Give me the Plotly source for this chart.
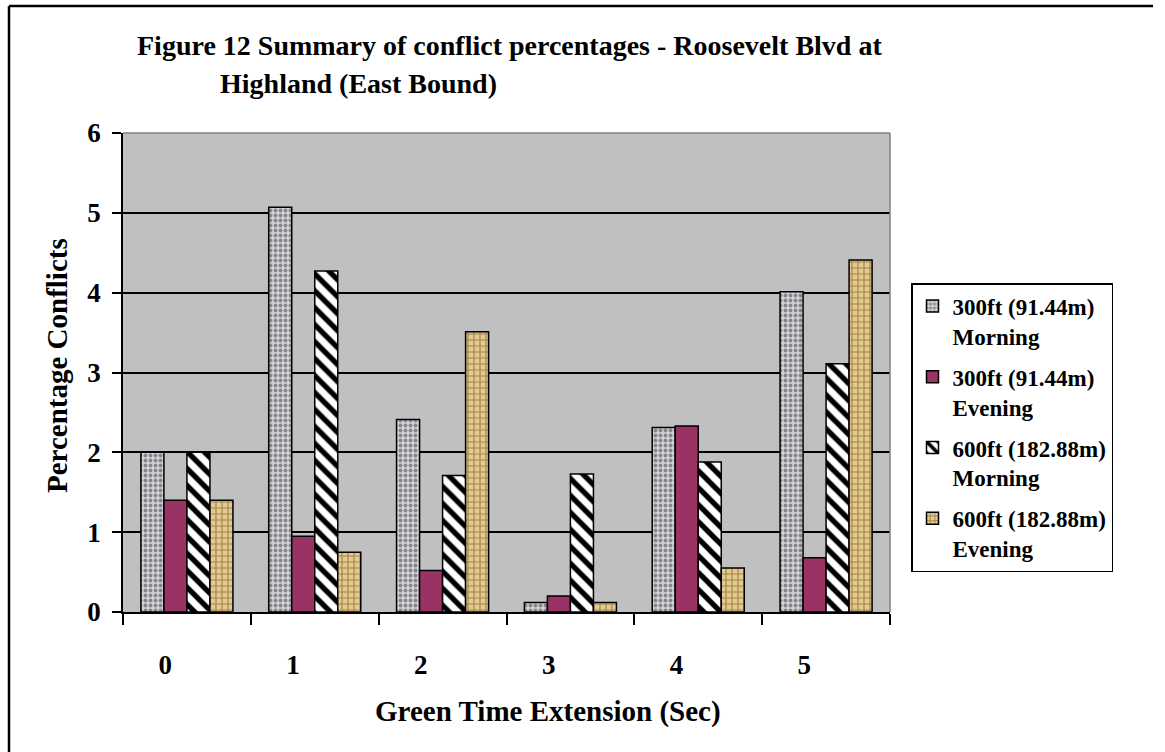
import plotly.graph_objects as go

categories = ["0", "1", "2", "3", "4", "5"]
series_names = ["300ft (91.44m)<br>Morning", "300ft (91.44m)<br>Evening",
                "600ft (182.88m)<br>Morning", "600ft (182.88m)<br>Evening"]
m300 = [2.0, 5.07, 2.41, 0.12, 2.31, 4.01]
e300 = [1.40, 0.95, 0.52, 0.20, 2.33, 0.68]
m600 = [2.0, 4.27, 1.71, 1.73, 1.88, 3.11]
e600 = [1.40, 0.75, 3.51, 0.12, 0.55, 4.41]
y_ticks = [0, 1, 2, 3, 4, 5, 6]

FONT = "Liberation Serif, Times New Roman, serif"
W, H = 1165, 752
L, R, T, B = 123, 890, 133, 612
PW, PH = R - L, B - T


def px(x):
    return (x - L) / PW


def py(y):
    return (B - y) / PH


xpos = list(range(len(categories)))
patterns = [
    dict(shape=".", fgcolor="#85858d", bgcolor="#d2d2d6", size=5, solidity=0.45, fillmode="replace"),
    None,
    dict(shape="\\", fgcolor="black", bgcolor="white", size=12, solidity=0.45, fillmode="replace"),
    dict(shape="+", fgcolor="#a5834a", bgcolor="#e2ca90", size=6, solidity=0.35, fillmode="replace"),
]
colors = ["#d2d2d6", "#993366", "white", "#e2ca90"]
values = [m300, e300, m600, e600]

fig = go.Figure()
for i, (name, vals) in enumerate(zip(series_names, values)):
    marker = dict(color=colors[i], line=dict(color="black", width=1.5))
    if patterns[i] is not None:
        marker["pattern"] = patterns[i]
    fig.add_trace(go.Bar(x=xpos, y=vals, name=name, marker=marker,
                         legendgroup=f"g{i}", xaxis="x"))

fig.update_layout(
    width=W, height=H,
    margin=dict(l=L, r=W - R, t=T, b=H - B, pad=0),
    paper_bgcolor="white",
    plot_bgcolor="#c0c0c0",
    barmode="group", bargap=0.28, bargroupgap=0,
    font=dict(family=FONT, size=22, color="black", weight="bold"),
    xaxis=dict(range=[-0.5, 5.5], tickvals=[-0.5, 0.5, 1.5, 2.5, 3.5, 4.5, 5.5],
               showticklabels=False, ticks="outside", ticklen=11, tickwidth=1.5,
               tickcolor="black", showline=True, linecolor="black", linewidth=1.5,
               showgrid=False, zeroline=False, fixedrange=True),
    xaxis2=dict(range=[-0.5, 5.5], overlaying="x", anchor="y", side="bottom",
                tickvals=[x - 0.17 for x in xpos], ticktext=categories,
                ticks="outside", ticklen=29, tickcolor="rgba(0,0,0,0)",
                showline=False, showgrid=False, zeroline=False,
                tickfont=dict(family=FONT, size=27, weight="bold")),
    yaxis=dict(range=[0, 6], tickvals=y_ticks, ticks="outside", ticklen=9,
               tickwidth=1.5, tickcolor="black", showline=True, linecolor="black",
               linewidth=1.5, showgrid=True, gridcolor="black", gridwidth=1.5,
               zeroline=False, ticklabelstandoff=6,
               tickfont=dict(family=FONT, size=27, weight="bold")),
    legend=dict(x=px(911), y=py(283), xanchor="left", yanchor="top",
                bgcolor="white", bordercolor="black", borderwidth=1.5,
                font=dict(family=FONT, size=23, weight="bold"),
                valign="top", tracegroupgap=8, itemwidth=30,
                entrywidth=195, entrywidthmode="pixels"),
    showlegend=True,
)

# invisible trace to activate xaxis2
fig.add_trace(go.Scatter(x=[0], y=[0], xaxis="x2", mode="markers",
                         marker=dict(opacity=0), showlegend=False, hoverinfo="skip"))

annotations = [
    dict(text="Figure 12 Summary of conflict percentages - Roosevelt Blvd at",
         x=px(135), y=py(46), xanchor="left", yanchor="middle", font=dict(size=28)),
    dict(text="Highland (East Bound)", x=px(218), y=py(84), xanchor="left",
         yanchor="middle", font=dict(size=28)),
    dict(text="Percentage Conflicts", x=px(57), y=py(366), textangle=-90,
         xanchor="center", yanchor="middle", font=dict(size=29)),
    dict(text="Green Time Extension (Sec)", x=px(548), y=py(711),
         xanchor="center", yanchor="middle", font=dict(size=29)),
]
for a in annotations:
    a.update(xref="paper", yref="paper", showarrow=False)
    a["font"].update(family=FONT, weight="bold", color="black")
fig.update_layout(annotations=annotations)

shapes = [
    # outer frame (left and top only)
    dict(type="line", x0=px(9), x1=px(9), y0=py(6), y1=py(752), line=dict(color="black", width=2.5)),
    dict(type="line", x0=px(9), x1=px(1153), y0=py(6), y1=py(6), line=dict(color="black", width=2.5)),
    # plot area top and right border
    dict(type="line", x0=0, x1=1, y0=1, y1=1, line=dict(color="#808080", width=1.5)),
    dict(type="line", x0=1, x1=1, y0=0, y1=1, line=dict(color="#808080", width=1.5)),
]
for s in shapes:
    s.update(xref="paper", yref="paper", layer="above")
fig.update_layout(shapes=shapes)

fig.write_html("out.html")
